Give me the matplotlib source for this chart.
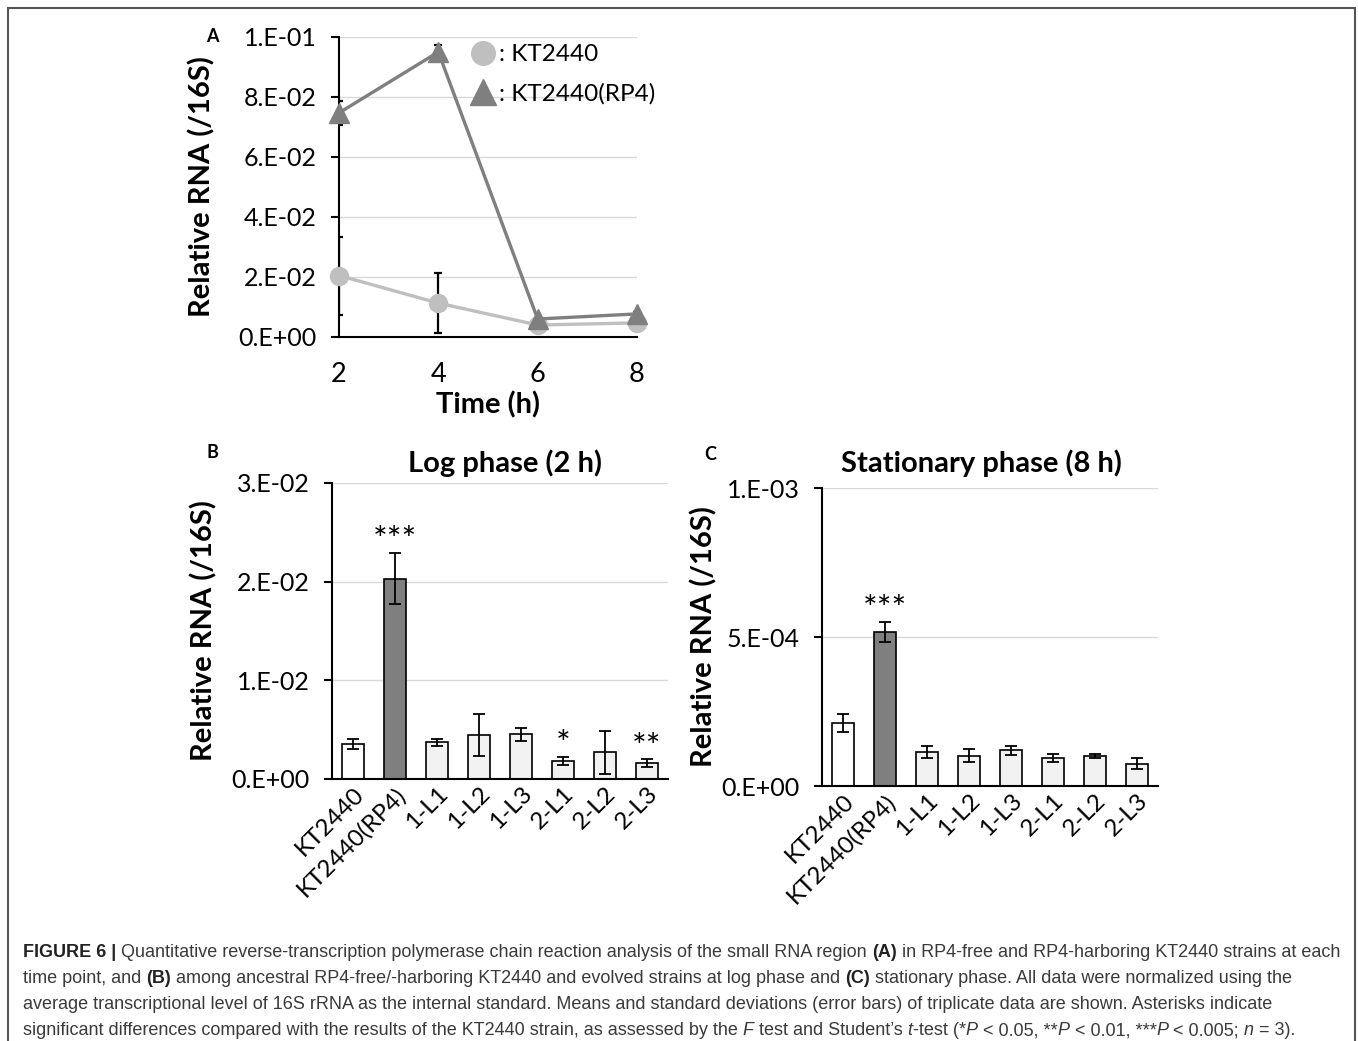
import matplotlib

matplotlib.use("Agg")
import matplotlib.pyplot as plt
from matplotlib.lines import Line2D
from matplotlib.patches import Rectangle

W, H = 1358, 1041
CHART_FONT = ["Lato", "DejaVu Sans"]
CAPTION_FONT = ["Liberation Sans", "DejaVu Sans"]

# panel A: time course
time_h = [2, 4, 6, 8]
kt_mean = [0.0205, 0.0113, 0.0040, 0.0047]
kt_err = [0.0130, 0.0100, 0.0005, 0.0005]
rp4_mean = [0.0747, 0.0950, 0.0060, 0.0077]
rp4_err = [0.0040, 0.0023, 0.0005, 0.0005]
a_yticks = [0.0, 0.02, 0.04, 0.06, 0.08, 0.10]
a_yticklabels = ["0.E+00", "2.E-02", "4.E-02", "6.E-02", "8.E-02", "1.E-01"]
a_xticks = [2, 4, 6, 8]

# panels B and C: strains
strains = ["KT2440", "KT2440(RP4)", "1-L1", "1-L2", "1-L3", "2-L1", "2-L2", "2-L3"]
log_mean = [0.00355, 0.0203, 0.00372, 0.00446, 0.00453, 0.00179, 0.0027, 0.00159]
log_err = [0.00054, 0.0026, 0.00034, 0.0021, 0.00068, 0.00042, 0.00215, 0.0004]
log_stars = ["", "***", "", "", "", "*", "", "**"]
b_yticks = [0.0, 0.01, 0.02, 0.03]
b_yticklabels = ["0.E+00", "1.E-02", "2.E-02", "3.E-02"]

stat_mean = [2.12e-4, 5.18e-4, 1.14e-4, 1.01e-4, 1.20e-4, 9.4e-5, 1.01e-4, 7.5e-5]
stat_err = [3.0e-5, 3.4e-5, 2.0e-5, 2.2e-5, 1.5e-5, 1.2e-5, 8e-6, 1.8e-5]
stat_stars = ["", "***", "", "", "", "", "", ""]
c_yticks = [0.0, 5e-4, 1e-3]
c_yticklabels = ["0.E+00", "5.E-04", "1.E-03"]

bar_colors = ["#ffffff", "#7f7f7f", "#f2f2f2", "#f2f2f2", "#f2f2f2", "#f2f2f2", "#f2f2f2", "#f2f2f2"]

caption_lines = [
    [("FIGURE 6 | ", "bold", "normal"),
     ("Quantitative reverse-transcription polymerase chain reaction analysis of the small RNA region ", "normal", "normal"),
     ("(A)", "bold", "normal"),
     (" in RP4-free and RP4-harboring KT2440 strains at each", "normal", "normal")],
    [("time point, and ", "normal", "normal"),
     ("(B)", "bold", "normal"),
     (" among ancestral RP4-free/-harboring KT2440 and evolved strains at log phase and ", "normal", "normal"),
     ("(C)", "bold", "normal"),
     (" stationary phase. All data were normalized using the", "normal", "normal")],
    [("average transcriptional level of 16S rRNA as the internal standard. Means and standard deviations "
      "(error bars) of triplicate data are shown. Asterisks indicate", "normal", "normal")],
    [("significant differences compared with the results of the KT2440 strain, as assessed by the ", "normal", "normal"),
     ("F", "normal", "italic"),
     (" test and Student\u2019s ", "normal", "normal"),
     ("t", "normal", "italic"),
     ("-test (*", "normal", "normal"),
     ("P", "normal", "italic"),
     (" < 0.05, **", "normal", "normal"),
     ("P", "normal", "italic"),
     (" < 0.01, ***", "normal", "normal"),
     ("P", "normal", "italic"),
     (" < 0.005; ", "normal", "normal"),
     ("n", "normal", "italic"),
     (" = 3).", "normal", "normal")],
]

TICK_SIZE = 18
LABEL_SIZE = 21


def add_axes_px(fig, left, top, right, bottom):
    return fig.add_axes([left / W, 1 - bottom / H, (right - left) / W, (bottom - top) / H])


def style_axes(axes):
    axes.spines["top"].set_visible(False)
    axes.spines["right"].set_visible(False)
    axes.spines["left"].set_linewidth(1.5)
    axes.spines["bottom"].set_linewidth(1.5)
    axes.yaxis.grid(True, color="#d9d9d9", linewidth=1.0)
    axes.set_axisbelow(True)
    axes.tick_params(axis="y", direction="out", length=6, width=1.5, pad=10, labelsize=TICK_SIZE)


def plot_time_course(fig):
    axes = add_axes_px(fig, 339, 37, 637, 337)
    style_axes(axes)
    axes.errorbar(time_h, kt_mean, yerr=kt_err, fmt="none", ecolor="black", elinewidth=1.6, capsize=3, capthick=1.6, zorder=2)
    axes.errorbar(time_h, rp4_mean, yerr=rp4_err, fmt="none", ecolor="black", elinewidth=1.6, capsize=3, capthick=1.6, zorder=2)
    axes.plot(time_h, kt_mean, "-o", color="#bfbfbf", linewidth=2.4, markersize=13, zorder=3, clip_on=False)
    axes.plot(time_h, rp4_mean, "-^", color="#7f7f7f", linewidth=2.4, markersize=15, zorder=4, clip_on=False)
    axes.set_xlim(2, 8)
    axes.set_ylim(0, 0.1)
    axes.set_xticks(a_xticks)
    axes.set_xticklabels([str(t) for t in a_xticks], family=CHART_FONT, fontsize=19.5)
    axes.tick_params(axis="x", length=0, pad=18)
    axes.set_yticks(a_yticks)
    axes.set_yticklabels(a_yticklabels, family=CHART_FONT)
    axes.set_ylabel("Relative RNA (/16S)", family=CHART_FONT, fontsize=LABEL_SIZE, fontweight="bold")
    axes.yaxis.set_label_coords(-0.416, 0.5)
    axes.set_xlabel("Time (h)", family=CHART_FONT, fontsize=LABEL_SIZE, fontweight="bold", va="center")
    axes.xaxis.set_label_coords(0.5, -0.227)

    handles = [Line2D([], [], marker="o", color="#bfbfbf", linestyle="none", markersize=17),
               Line2D([], [], marker="^", color="#7f7f7f", linestyle="none", markersize=19)]
    axes.legend(handles, [": KT2440", ": KT2440(RP4)"], loc="upper left",
                bbox_to_anchor=(473 / W, 1 - 44 / H), bbox_transform=fig.transFigure,
                frameon=False, borderpad=0, borderaxespad=0, handlelength=0.85, handletextpad=0.2,
                labelspacing=0.75, prop={"family": CHART_FONT, "size": 17.5})
    fig.text(212 / W, 1 - 37 / H, "A", family=CHART_FONT, fontsize=13, fontweight="bold", ha="center", va="center")


def plot_bars(fig, box, means, errs, stars, yticks, yticklabels, ymax, title, title_x, label_x, letter, letter_xy):
    axes = add_axes_px(fig, *box)
    style_axes(axes)
    positions = list(range(len(strains)))
    axes.bar(positions, means, width=0.52, color=bar_colors, edgecolor="black", linewidth=1.2, zorder=2)
    axes.errorbar(positions, means, yerr=errs, fmt="none", ecolor="black", elinewidth=1.3, capsize=4, capthick=1.3, zorder=3)
    for pos, mean, err, star in zip(positions, means, errs, stars):
        if star:
            axes.annotate(star, (pos, mean + err), xytext=(0, -3), textcoords="offset points",
                          ha="center", va="bottom", family=CHART_FONT, fontsize=25)
    axes.set_xlim(-0.5, len(strains) - 0.5)
    axes.set_ylim(0, ymax)
    axes.set_yticks(yticks)
    axes.set_yticklabels(yticklabels, family=CHART_FONT)
    axes.set_xticks(positions)
    axes.set_xticklabels(strains, rotation=45, ha="right", va="top", rotation_mode="anchor",
                         family=CHART_FONT, fontsize=17.5)
    axes.tick_params(axis="x", length=0, pad=3)
    axes.set_ylabel("Relative RNA (/16S)", family=CHART_FONT, fontsize=LABEL_SIZE, fontweight="bold")
    axes.yaxis.set_label_coords(label_x, 0.5)
    axes.text(title_x, 1 + (box[1] - 463) / (box[3] - box[1]), title, transform=axes.transAxes,
              ha="center", va="center", family=CHART_FONT, fontsize=LABEL_SIZE, fontweight="bold")
    fig.text(letter_xy[0] / W, 1 - letter_xy[1] / H, letter, family=CHART_FONT, fontsize=13,
             fontweight="bold", ha="center", va="center")


def text_width(fig, renderer, text, props):
    probe = fig.text(0, 0, "|" + text + "|", **props)
    bars = fig.text(0, 0, "||", **props)
    width = probe.get_window_extent(renderer).width - bars.get_window_extent(renderer).width
    probe.remove()
    bars.remove()
    return width


def draw_caption(fig, size):
    renderer = fig.canvas.get_renderer()
    baselines = [957, 983, 1009, 1035]
    for runs, base in zip(caption_lines, baselines):
        x = 23.0
        for text, weight, style in runs:
            color = "#222222" if weight == "bold" else "#3a3a3a"
            props = {"family": CAPTION_FONT, "fontsize": size, "fontweight": weight, "fontstyle": style, "color": color}
            fig.text(x / W, 1 - base / H, text, va="baseline", ha="left", **props)
            x += text_width(fig, renderer, text, props)


def main():
    plt.rcParams["font.family"] = CHART_FONT
    fig = plt.figure(figsize=(W / 100.0, H / 100.0), dpi=100)
    fig.patches.append(Rectangle((8 / W, -0.01), (1355 - 8) / W, 1 - 8 / H + 0.01, transform=fig.transFigure,
                                 fill=False, edgecolor="#555555", linewidth=1.5))
    plot_time_course(fig)
    plot_bars(fig, (332, 483, 668, 779), log_mean, log_err, log_stars, b_yticks, b_yticklabels, 0.03,
              "Log phase (2 h)", 0.515, -0.342, "B", (212, 453))
    plot_bars(fig, (822, 488, 1158, 786), stat_mean, stat_err, stat_stars, c_yticks, c_yticklabels, 0.001,
              "Stationary phase (8 h)", 0.476, -0.3125, "C", (710, 455))
    draw_caption(fig, 13)
    fig.savefig("out.png", dpi=100)
    plt.close(fig)


if __name__ == "__main__":
    main()
